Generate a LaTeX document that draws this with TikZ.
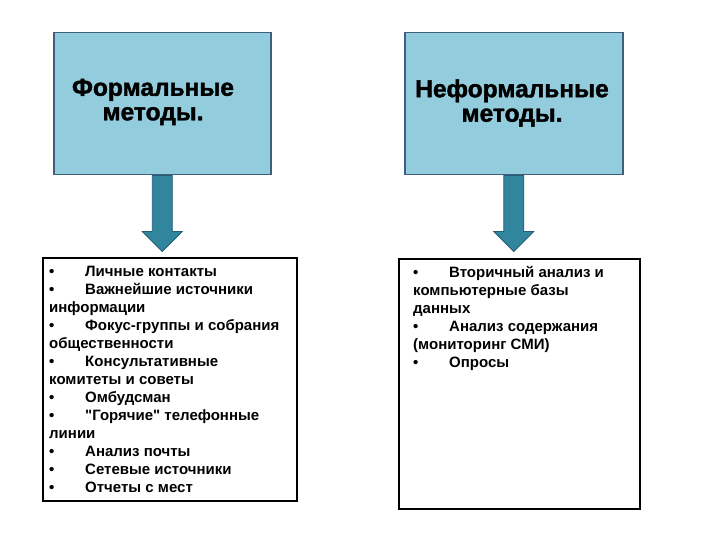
\documentclass[tikz,border=0pt]{standalone}
\usepackage{fontspec}
\setmainfont{Liberation Sans}
\newfontfamily\heavyfont{Liberation Sans}[BoldFeatures={FakeBold=1.6}]
\usetikzlibrary{calc}
\definecolor{boxfill}{HTML}{93CDDD}
\definecolor{boxline}{HTML}{3E5F80}
\definecolor{arrfill}{HTML}{31859C}
\definecolor{arrline}{HTML}{245F75}
\tikzset{
  headbox/.style={draw=boxline, line width=1.5pt, fill=boxfill, minimum width=#1, minimum height=142pt, inner sep=0pt, anchor=north west},
  listbox/.style={draw=black, line width=1.8pt, fill=white, inner sep=0pt, anchor=north west},
  titletext/.style={font=\heavyfont\bfseries\fontsize{24.5}{24.5}\selectfont, align=center, inner sep=0pt},
  listtext/.style={font=\bfseries\fontsize{15}{18}\selectfont, align=left, inner sep=0pt, anchor=north west},
  blockarrow/.style={fill=arrfill, draw=arrline, line width=0.8pt, line join=miter}
}
\newcommand{\bul}{\makebox[36pt][l]{•}}
\newcommand{\sq}{\XeTeXglyph\XeTeXcharglyph"22\relax}
\begin{document}
\begin{tikzpicture}[x=1pt,y=-1pt]
\useasboundingbox (0,0) rectangle (720,540);
% top boxes
\node[headbox=217pt] (t1) at (53,32) {};
\node[headbox=218pt] (t2) at (404,32) {};
\node[titletext] (t1txt) at (153,102) {Формальные\\методы.};
\node[titletext] (t2txt) at (512,103) {Неформальные\\методы.};
% list boxes
\node[listbox, minimum width=254pt, minimum height=243pt] (b1) at (42,257) {};
\node[listbox, minimum width=241pt, minimum height=250pt] (b2) at (398,258) {};
\node[listtext] (l1) at (49,266) {\bul Личные контакты\\
\bul Важнейшие источники\\
информации\\
\bul Фокус-группы и собрания\\
общественности\\
\bul Консультативные\\
комитеты и советы\\
\bul Омбудсман\\
\bul \sq Горячие\sq{} телефонные\\
линии\\
\bul Анализ почты\\
\bul Сетевые источники\\
\bul Отчеты с мест};
\node[listtext] (l2) at (413,266) {\bul Вторичный анализ и\\
компьютерные базы\\
данных\\
\bul Анализ содержания\\
(мониторинг СМИ)\\
\bul Опросы};
% block arrows
\foreach \s/\d in {t1/b1,t2/b2}{
  \path (\s.south) coordinate (as) (\d.north) coordinate (ad);
  \draw[blockarrow] ($(as)+(-10,0)$) -- ($(as)+(10,0)$) -- ($(as)+(10,56)$) -- ($(as)+(20,56)$)
    -- ($(as)+(0,76)$) -- ($(as)+(-20,56)$) -- ($(as)+(-10,56)$) -- cycle;
}
\end{tikzpicture}
\end{document}
